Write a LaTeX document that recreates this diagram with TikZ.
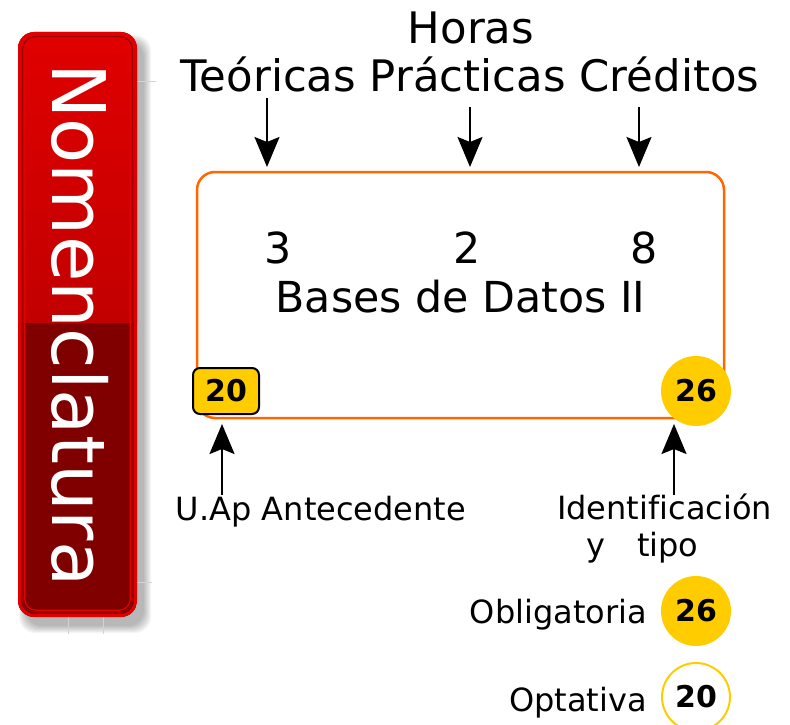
\documentclass[tikz,border=0pt]{standalone}
\usepackage{fontspec}
\setmainfont{DejaVu Sans}[Ligatures=NoCommon]
\usetikzlibrary{arrows.meta}
\definecolor{orng}{HTML}{FF6600}
\definecolor{gold}{HTML}{FFCC00}
\definecolor{redtop}{HTML}{E00000}
\definecolor{redmid}{HTML}{C20000}
\definecolor{darkred}{HTML}{800000}
\definecolor{edgedark}{HTML}{990000}
\begin{document}
\begin{tikzpicture}[x=1pt,y=-1pt,
  bigtxt/.style={inner sep=0pt,font=\fontsize{42.7}{50}\selectfont},
  headtxt/.style={inner sep=0pt,font=\fontsize{43.4}{50}\selectfont},
  midtxt/.style={inner sep=0pt,font=\fontsize{32}{38}\selectfont},
  badgetxt/.style={font=\fontsize{30}{34}\selectfont\bfseries, text=black},
  arr/.style={-{Stealth[length=30pt,width=25pt,inset=5pt]}, line width=2pt, black},
  guide/.style={gray!35, line width=0.8pt}]
\useasboundingbox (0,0) rectangle (790,725);

% shadow of the title bar
\foreach \k in {0,...,7}{
  \fill[black, opacity=0.04, rounded corners=16pt]
    ({18+8-\k},{32+10-\k}) rectangle ({137+7+\k},{617+9+\k});
}
\draw[guide] (137,81) -- (156,81);
\draw[guide] (137,582) -- (152,582);
\draw[guide] (68,617) -- (68,634);
\draw[guide] (103,617) -- (103,634);

% title bar
\begin{scope}
  \clip[rounded corners=16pt] (18,32) rectangle (137,617);
  \shade[top color=redtop, bottom color=redmid] (18,32) rectangle (137,323);
  \fill[darkred] (18,323) rectangle (137,617);
\end{scope}
\draw[redtop, line width=3pt, rounded corners=15pt] (19.5,33.5) rectangle (135.5,615.5);
\draw[edgedark, line width=1.2pt, rounded corners=13pt] (22.5,36.5) rectangle (132.5,612.5);
\draw[red!90!black, line width=1.2pt, rounded corners=11pt] (24.8,38.8) rectangle (130.2,610.2);
\node[inner sep=0pt, rotate=-90, anchor=base, text=white,
      font=\fontsize{74}{80}\selectfont] (title) at (52,325) {Nomenclatura};

% headings
\node[headtxt, anchor=base] (horas) at (471,44) {Horas};
\node[headtxt, anchor=base] (cols) at (470,92) {Teóricas Prácticas Créditos};

% main box
\node[draw=orng, line width=2.5pt, rounded corners=18pt, minimum width=527pt,
      minimum height=246pt, inner sep=0pt] (box) at (460.5,295) {};
\node[bigtxt, anchor=base] (nT) at (278,263) {3};
\node[bigtxt, anchor=base] (nP) at (467,263) {2};
\node[bigtxt, anchor=base] (nC) at (644,263) {8};
\node[bigtxt, anchor=base] (name) at (460.5,312) {Bases de Datos II};

% badges on the box
\node[draw=black, line width=2pt, fill=gold, rounded corners=7pt, minimum width=66pt,
      minimum height=46pt, inner sep=0pt, badgetxt] (ua) at (226,391) {20};
\node[circle, fill=gold, minimum size=70pt, inner sep=0pt, badgetxt] (id) at (696,391) {26};

% arrows from headings
\coordinate (aT1) at (267,98);  \coordinate (aT2) at (267,167);
\coordinate (aP1) at (470,107); \coordinate (aP2) at (470,167);
\coordinate (aC1) at (639,107); \coordinate (aC2) at (639,167);
\draw[arr] (aT1) -- (aT2);
\draw[arr] (aP1) -- (aP2);
\draw[arr] (aC1) -- (aC2);

% bottom labels and arrows
\node[midtxt, anchor=base] (lua) at (321,520) {U.Ap Antecedente};
\node[midtxt, anchor=base] (lid) at (664.5,519) {Identificación};
\node[midtxt, anchor=base west] (lid2) at (586,556) {y\hspace{32pt}tipo};
\coordinate (uA1) at (222,495); \coordinate (uA2) at (222,424);
\coordinate (uB1) at (674,495); \coordinate (uB2) at (674,424);
\draw[arr] (uA1) -- (uA2);
\draw[arr] (uB1) -- (uB2);

% legend
\node[midtxt, anchor=base east] (lob) at (647,623) {Obligatoria};
\node[circle, fill=gold, minimum size=70pt, inner sep=0pt, badgetxt] (cob) at (696,611) {26};
\node[midtxt, anchor=base east] (lop) at (647,711) {Optativa};
\node[circle, draw=gold, line width=2pt, fill=white, minimum size=68pt, inner sep=0pt, badgetxt] (cop) at (696,697) {20};
\end{tikzpicture}
\end{document}
